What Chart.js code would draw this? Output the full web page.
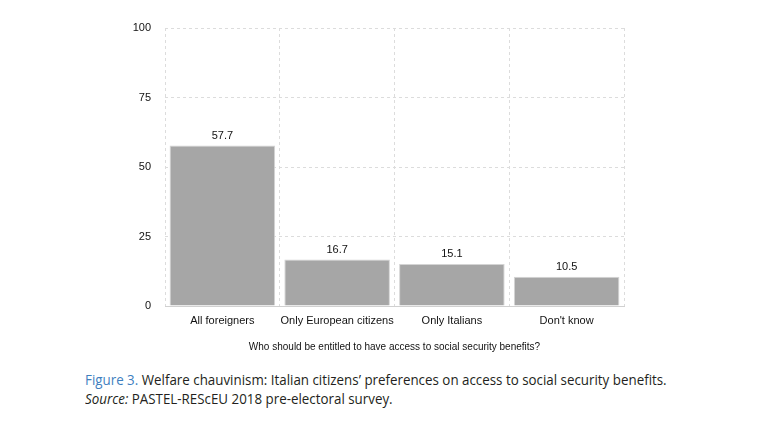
<!DOCTYPE html>
<html>
<head>
<meta charset="utf-8">
<script src="https://cdn.jsdelivr.net/npm/chart.js@4/dist/chart.umd.min.js"></script>
<style>
  body { margin: 0; background: #fff; width: 762px; height: 424px; overflow: hidden; position: relative; }
  #wrap { position: absolute; left: 0; top: 0; width: 762px; height: 360px; }
  #caption {
    position: absolute; left: 85px; top: 370px; white-space: nowrap;
    font-family: "Open Sans", sans-serif;
    font-size: 15px; line-height: 19px; color: #231f20;
    transform: scaleX(0.89); transform-origin: left top;
  }
  #caption .fig { color: #3f7fbf; }
</style>
</head>
<body>
<div id="wrap"><canvas id="grafica"></canvas></div>
<div id="caption">
  <span class="fig">Figure 3.</span> Welfare chauvinism: Italian citizens’ preferences on access to social security benefits.<br>
  <i>Source:</i> PASTEL-REScEU 2018 pre-electoral survey.
</div>
<script>
  const categorias = ["All foreigners", "Only European citizens", "Only Italians", "Don't know"];
  const valores = [57.7, 16.7, 15.1, 10.5];
  const ticksY = [0, 25, 50, 75, 100];
  const tituloX = "Who should be entitled to have access to social security benefits?";

  const fuente = "Arial, 'Liberation Sans', sans-serif";

  // Etiquetas de valor encima de cada barra.
  const etiquetas = {
    id: "etiquetas",
    afterDatasetsDraw(chart) {
      const { ctx } = chart;
      ctx.save();
      ctx.fillStyle = "#111";
      ctx.font = `11px ${fuente}`;
      ctx.textAlign = "center";
      ctx.textBaseline = "middle";
      chart.getDatasetMeta(0).data.forEach((bar, i) => {
        ctx.fillText(valores[i].toFixed(1), bar.x, bar.y - 10);
      });
      ctx.restore();
    }
  };

  new Chart(document.getElementById("grafica"), {
    type: "bar",
    data: {
      labels: categorias,
      datasets: [{
        data: valores,
        backgroundColor: "#a6a6a6",
        borderColor: "#d4d4d4",
        borderWidth: 1,
        barPercentage: 0.92,
        categoryPercentage: 1
      }]
    },
    options: {
      responsive: true,
      maintainAspectRatio: false,
      animation: false,
      layout: { padding: { left: 125, right: 138, top: 28, bottom: 7 } },
      plugins: { legend: { display: false }, tooltip: { enabled: false } },
      scales: {
        y: {
          min: 0,
          max: 100,
          afterBuildTicks: axis => { axis.ticks = ticksY.map(v => ({ value: v })); },
          afterFit: axis => { axis.width = 40; },
          ticks: { color: "#111", font: { size: 11, family: fuente }, padding: 14 },
          grid: { color: "#dcdcdc", drawTicks: false },
          border: { display: false, dash: [3, 3] }
        },
        x: {
          afterFit: axis => { axis.height = 47; },
          ticks: { color: "#111", font: { size: 11, family: fuente }, padding: 8, maxRotation: 0, minRotation: 0, autoSkip: false },
          grid: { color: "#dcdcdc", drawTicks: false, offset: true },
          border: { display: true, color: "#d0d0d0", dash: [3, 3] },
          title: {
            display: true,
            text: tituloX,
            color: "#111",
            font: { size: 10, family: fuente },
            padding: { top: 8, bottom: 0 }
          }
        }
      }
    },
    plugins: [etiquetas]
  });
</script>
</body>
</html>
